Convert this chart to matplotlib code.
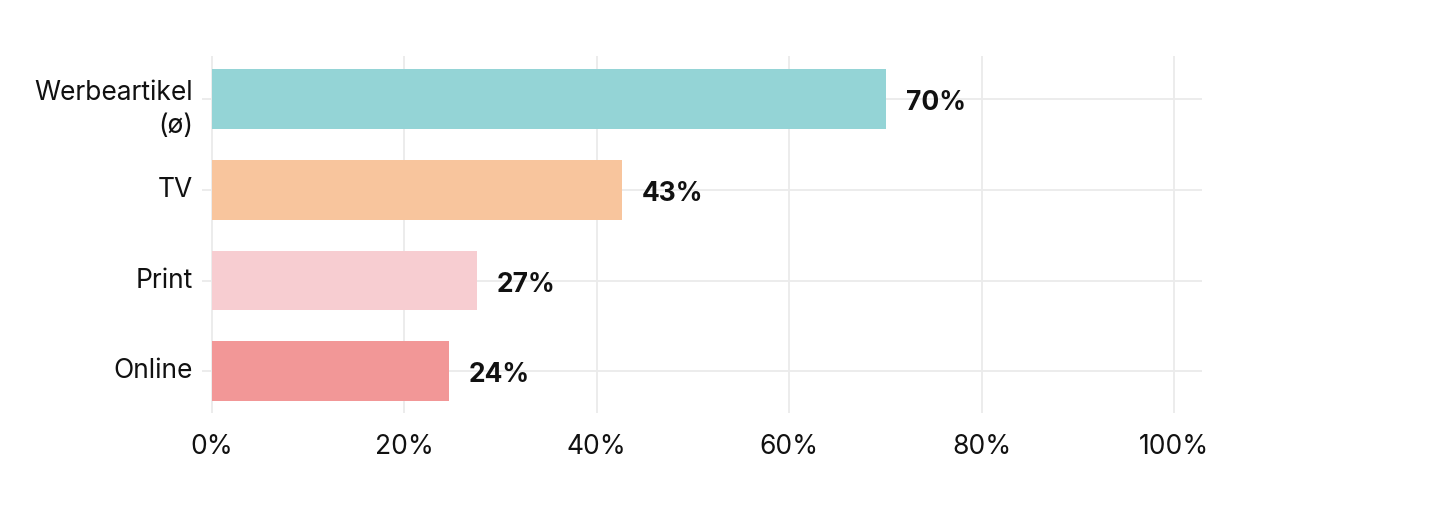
import matplotlib
matplotlib.use("Agg")
import matplotlib.pyplot as plt
from matplotlib.ticker import FuncFormatter
from matplotlib.transforms import ScaledTranslation

categories = ["Werbeartikel\n(ø)", "TV", "Print", "Online"]
values = [70.05, 42.6, 27.5, 24.6]
value_labels = ["70%", "43%", "27%", "24%"]
colors = ["#94D4D6", "#F8C59D", "#F7CDD1", "#F29797"]
xticks = [0, 20, 40, 60, 80, 100]

plt.rcParams['font.family'] = ['Inter', 'DejaVu Sans']

fig = plt.figure(figsize=(14.4, 5.2), dpi=100)
ax = fig.add_axes([0.1403, 0.2058, 0.6944, 0.6865])

ypos = list(range(len(categories)))
ax.barh(ypos, values, height=0.66, color=colors, zorder=2)
for y, v, lab in zip(ypos, values, value_labels):
    ax.annotate(lab, (v, y), xytext=(20, -4), textcoords="offset pixels",
                ha="left", va="center", fontsize=19, fontweight="bold",
                color="#111111", zorder=3)

ax.set_xlim(-1.04, 102.9)
ax.set_ylim(3.46, -0.476)
ax.set_xticks(xticks)
ax.xaxis.set_major_formatter(FuncFormatter(lambda x, p: f"{x:.0f}%"))
ax.set_yticks(ypos)
ax.set_yticklabels([])
ax.tick_params(axis="x", length=0, pad=15, labelsize=19, labelcolor="#111111")
ax.tick_params(axis="y", length=0)
for y, cat in zip(ypos, categories):
    dy = -0.10 if "\n" in cat else 0.0
    tr = ax.get_yaxis_transform() + ScaledTranslation(0, dy, fig.dpi_scale_trans)
    ax.text(-0.009, y, cat, transform=tr,
            ha="right", va="center", fontsize=19, color="#111111",
            linespacing=1.35, multialignment="right")
ax.grid(True, color="#EBEBEB", linewidth=1.3, zorder=0)
ax.set_axisbelow(True)
for s in ax.spines.values():
    s.set_visible(False)

fig.savefig("out.png", dpi=100, facecolor="white")
